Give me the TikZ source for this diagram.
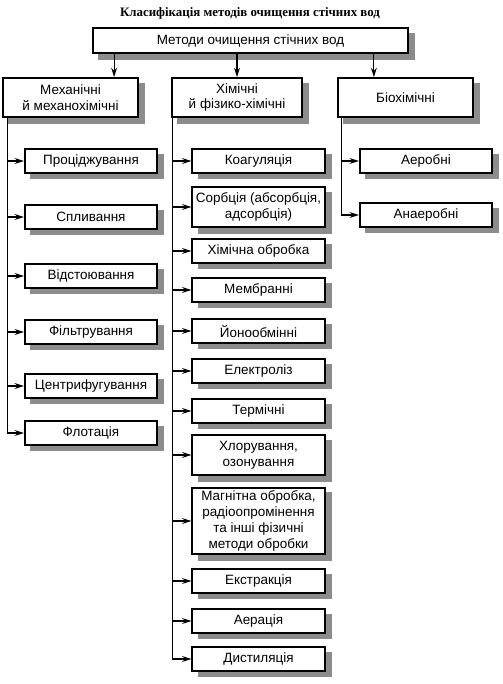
\documentclass[tikz,border=0pt]{standalone}
\usepackage{fontspec}
\setmainfont{Liberation Serif}
\setsansfont{Liberation Sans}
\usetikzlibrary{arrows.meta,backgrounds}
\tikzset{
  box/.style={draw=black, line width=1.5pt, fill=white, align=center, inner sep=1pt,
    font=\sffamily\fontsize{11.5}{13.5}\selectfont},
  catbox/.style={box, minimum height=1.17cm},
  methbox/.style={box, minimum width=3.97cm, minimum height=0.7cm},
  boxshadow/.style={fill=black!45, draw=none},
  link/.style={line width=1pt, draw=black},
  arr/.style={link, -{Stealth[length=8pt,width=5pt]}},
  titletext/.style={font=\bfseries\fontsize{11}{13}\selectfont},
}
\newcommand{\shadowof}[1]{\fill[boxshadow] ([shift={(0.19cm,-0.17cm)}]#1.south west) rectangle ([shift={(0.19cm,-0.17cm)}]#1.north east);}
\begin{document}
\begin{tikzpicture}[x=0.03cm, y=-0.03cm]
\useasboundingbox (0,0) rectangle (502,684);
\node[titletext] (title) at (250,13) {Класифікація методів очищення стічних вод};
\node[box, minimum width=9.45cm, minimum height=0.75cm] (top) at (250.5,40.5) {Методи очищення стічних вод};
\node[catbox, minimum width=4.05cm] (mech) at (70.5,97.5) {Механічні\\й механохімічні};
\node[catbox, minimum width=3.9cm] (chem) at (237,97.5) {Хімічні\\й фізико-хімічні};
\node[catbox, minimum width=4.05cm] (bio) at (405.5,97.5) {Біохімічні};
\draw[arr] ([xshift=0.66cm]top.south west) -- ([xshift=0.66cm]top.south west |- mech.north);
\draw[arr] (top.south -| chem.north) -- (chem.north);
\draw[arr] ([xshift=-1.05cm]top.south east) -- ([xshift=-1.05cm]top.south east |- bio.north);
\node[methbox] (m1) at (91,161) {Проціджування};
\node[methbox] (m2) at (91,217) {Спливання};
\node[methbox] (m3) at (91,276) {Відстоювання};
\node[methbox] (m4) at (91,332) {Фільтрування};
\node[methbox] (m5) at (91,386) {Центрифугування};
\node[methbox] (m6) at (91,433) {Флотація};
\node[methbox] (c1) at (258.5,161) {Коагуляція};
\node[methbox, minimum height=1.2cm] (c2) at (258.5,207) {Сорбція (абсорбція,\\адсорбція)};
\node[methbox] (c3) at (258.5,251) {Хімічна обробка};
\node[methbox] (c4) at (258.5,290) {Мембранні};
\node[methbox] (c5) at (258.5,331) {Йонообмінні};
\node[methbox] (c6) at (258.5,371) {Електроліз};
\node[methbox] (c7) at (258.5,411) {Термічні};
\node[methbox, minimum height=1.2cm] (c8) at (258.5,455) {Хлорування,\\озонування};
\node[methbox, minimum height=2.0cm] (c9) at (258.5,521) {Магнітна обробка,\\радіоопромінення\\та інші фізичні\\методи обробки};
\node[methbox] (c10) at (258.5,581) {Екстракція};
\node[methbox] (c11) at (258.5,621) {Аерація};
\node[methbox] (c12) at (258.5,659) {Дистиляція};
\node[methbox] (b1) at (426,161) {Аеробні};
\node[methbox] (b2) at (426,215) {Анаеробні};
\begin{scope}[on background layer]
\shadowof{top}
\shadowof{mech}
\shadowof{chem}
\shadowof{bio}
\shadowof{m1}
\shadowof{m2}
\shadowof{m3}
\shadowof{m4}
\shadowof{m5}
\shadowof{m6}
\shadowof{c1}
\shadowof{c2}
\shadowof{c3}
\shadowof{c4}
\shadowof{c5}
\shadowof{c6}
\shadowof{c7}
\shadowof{c8}
\shadowof{c9}
\shadowof{c10}
\shadowof{c11}
\shadowof{c12}
\shadowof{b1}
\shadowof{b2}
\end{scope}
\coordinate (mtrunk) at ([xshift=0.15cm]mech.south west);
\coordinate (ctrunk) at ([xshift=0.05cm]chem.south west);
\coordinate (btrunk) at ([xshift=0.12cm]bio.south west);
\draw[arr] (mtrunk) |- (m6.west);
\draw[arr] (mtrunk |- m1.west) -- (m1.west);
\draw[arr] (mtrunk |- m2.west) -- (m2.west);
\draw[arr] (mtrunk |- m3.west) -- (m3.west);
\draw[arr] (mtrunk |- m4.west) -- (m4.west);
\draw[arr] (mtrunk |- m5.west) -- (m5.west);
\draw[arr] (ctrunk) |- (c12.west);
\draw[arr] (ctrunk |- c1.west) -- (c1.west);
\draw[arr] (ctrunk |- c2.west) -- (c2.west);
\draw[arr] (ctrunk |- c3.west) -- (c3.west);
\draw[arr] (ctrunk |- c4.west) -- (c4.west);
\draw[arr] (ctrunk |- c5.west) -- (c5.west);
\draw[arr] (ctrunk |- c6.west) -- (c6.west);
\draw[arr] (ctrunk |- c7.west) -- (c7.west);
\draw[arr] (ctrunk |- c8.west) -- (c8.west);
\draw[arr] (ctrunk |- c9.west) -- (c9.west);
\draw[arr] (ctrunk |- c10.west) -- (c10.west);
\draw[arr] (ctrunk |- c11.west) -- (c11.west);
\draw[arr] (btrunk) |- (b2.west);
\draw[arr] (btrunk |- b1.west) -- (b1.west);
\end{tikzpicture}
\end{document}
